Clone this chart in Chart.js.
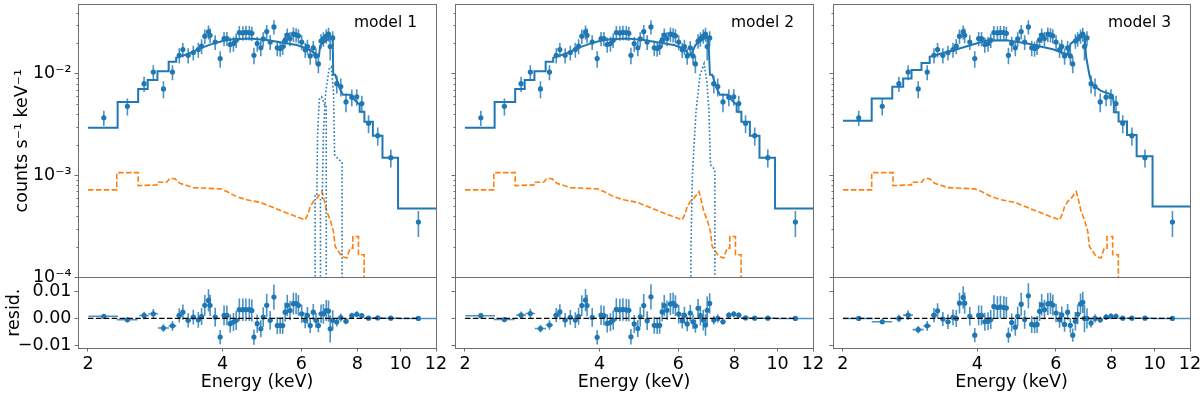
<!DOCTYPE html>
<html>
<head>
<meta charset="utf-8">
<script src="https://cdn.jsdelivr.net/npm/chart.js@4.4.1/dist/chart.umd.min.js"></script>
<style>
  body { margin: 0; background: #fff; }
  #wrap { position: relative; width: 1200px; height: 393px; }
  #wrap canvas { position: absolute; left: 0; top: 0; }
</style>
</head>
<body>
<div id="wrap">
  <canvas id="c1" width="1200" height="393"></canvas>
  <canvas id="c2" width="1200" height="393"></canvas>
  <canvas id="c3" width="1200" height="393"></canvas>
</div>
<script>
// ── axes ──────────────────────────────────────────────────────────────────
const xTicks = [2, 4, 6, 8, 10, 12];
const yTicks = [1e-4, 1e-3, 1e-2];
const yTickLabels = ["10⁻⁴", "10⁻³", "10⁻²"];
const residTicks = [-0.01, 0, 0.01];
const residTickLabels = ["−0.01", "0.00", "0.01"];
const panelLabels = ["model 1", "model 2", "model 3"];

// ── observed spectrum (keV, counts s-1 keV-1) ─────────────────────────────
const energy = [
  2.17, 2.45, 2.67, 2.80, 2.95, 3.09, 3.20, 3.26, 3.35, 3.44,
  3.53, 3.59, 3.65, 3.72, 3.75, 3.85, 3.95, 4.03, 4.09, 4.16,
  4.23, 4.29, 4.36, 4.44, 4.51, 4.59, 4.65, 4.70, 4.78, 4.87,
  4.93, 5.02, 5.11, 5.21, 5.30, 5.38, 5.45, 5.52, 5.58, 5.66,
  5.76, 5.84, 5.91, 6.01, 6.12, 6.19, 6.28, 6.38, 6.47, 6.55,
  6.64, 6.72, 6.82, 6.90, 6.96, 7.05, 7.20, 7.35, 7.55, 7.78,
  7.98, 8.19, 8.48, 8.89, 9.51, 10.96,
];
const energyHalfWidth = [
  0.165, 0.13, 0.065, 0.07, 0.085, 0.06, 0.05, 0.03, 0.045, 0.045,
  0.04, 0.03, 0.03, 0.03, 0.03, 0.04, 0.04, 0.035, 0.03, 0.035,
  0.035, 0.03, 0.035, 0.035, 0.035, 0.035, 0.03, 0.03, 0.04, 0.04,
  0.03, 0.045, 0.045, 0.05, 0.045, 0.04, 0.035, 0.035, 0.03, 0.04,
  0.05, 0.04, 0.035, 0.05, 0.055, 0.035, 0.045, 0.05, 0.045, 0.04,
  0.045, 0.04, 0.05, 0.04, 0.03, 0.04, 0.07, 0.08, 0.1, 0.1,
  0.1, 0.1, 0.18, 0.22, 0.37, 1.06,
];
const counts = [
  3.7e-3, 4.8e-3, 8.0e-3, 1.04e-2, 7.1e-3, 1.04e-2, 1.52e-2, 1.73e-2, 1.52e-2, 1.62e-2,
  1.73e-2, 1.87e-2, 2.34e-2, 2.58e-2, 2.39e-2, 2.05e-2, 1.41e-2, 2.22e-2, 2.22e-2, 1.94e-2,
  1.98e-2, 2.14e-2, 2.54e-2, 2.52e-2, 2.55e-2, 2.54e-2, 2.50e-2, 1.52e-2, 1.98e-2, 1.80e-2,
  2.20e-2, 2.60e-2, 2.05e-2, 2.89e-2, 1.80e-2, 1.77e-2, 1.84e-2, 2.15e-2, 2.40e-2, 2.22e-2,
  2.45e-2, 2.42e-2, 2.36e-2, 2.05e-2, 1.72e-2, 1.85e-2, 1.50e-2, 1.80e-2, 1.50e-2, 1.25e-2,
  2.10e-2, 2.20e-2, 2.35e-2, 2.45e-2, 1.85e-2, 2.25e-2, 8.0e-3, 7.5e-3, 5.3e-3, 5.9e-3,
  5.95e-3, 5.1e-3, 3.26e-3, 2.47e-3, 1.50e-3, 3.5e-4,
];
const countsErr = [
  6.3e-4, 9.1e-4, 1.36e-3, 1.77e-3, 1.35e-3, 1.77e-3, 2.6e-3, 2.8e-3, 2.6e-3, 2.7e-3,
  2.9e-3, 3.1e-3, 3.8e-3, 4.1e-3, 3.9e-3, 3.4e-3, 2.6e-3, 3.6e-3, 3.6e-3, 3.3e-3,
  3.3e-3, 3.5e-3, 4.1e-3, 4.1e-3, 4.1e-3, 4.1e-3, 4.0e-3, 2.8e-3, 3.3e-3, 3.1e-3,
  3.6e-3, 4.2e-3, 3.4e-3, 4.6e-3, 3.1e-3, 3.0e-3, 3.1e-3, 3.5e-3, 3.9e-3, 3.6e-3,
  4.0e-3, 3.9e-3, 3.8e-3, 3.4e-3, 2.9e-3, 3.1e-3, 2.7e-3, 3.0e-3, 2.7e-3, 2.4e-3,
  3.4e-3, 3.6e-3, 3.8e-3, 3.9e-3, 5.0e-3, 3.7e-3, 1.6e-3, 1.5e-3, 1.1e-3, 1.1e-3,
  1.1e-3, 1.0e-3, 6.5e-4, 5.0e-4, 3.0e-4, 1.0e-4,
];

// ── residuals per model ───────────────────────────────────────────────────
const resid1 = [
  0.0008, -0.0005, 0.0011, 0.0017, -0.0035, -0.0027, 0.0011, 0.0023, -0.0007, 0.0005,
  -0.0005, 0.0007, 0.0048, 0.0066, 0.0048, 0.0005, -0.0068, 0.0011, 0.0011, -0.0019,
  -0.0013, -0.0007, 0.0032, 0.0032, 0.0032, 0.0032, 0.0029, -0.0068, -0.0019, -0.0038,
  0.0005, 0.0048, -0.0007, 0.0078, -0.0026, -0.0026, -0.0026, 0.0023, 0.0048, 0.0029,
  0.0054, 0.0054, 0.0048, 0.0017, -0.0007, 0.0011, -0.0026, 0.0023, -0.0007, -0.0026,
  0.0017, 0.0017, 0.0029, 0.0027, -0.0038, -0.0007, -0.0013, 0.0003, -0.0010, 0.0010,
  0.0015, 0.0010, 0.0001, 0.0002, 0.0001, 0.0,
];
const resid2 = [
  0.0010, -0.0004, 0.0012, 0.0018, -0.0037, -0.0024, 0.0012, 0.0024, -0.0006, 0.0004,
  -0.0006, 0.0008, 0.0047, 0.0067, 0.0047, 0.0004, -0.0069, 0.0012, 0.0010, -0.0018,
  -0.0014, -0.0006, 0.0033, 0.0031, 0.0033, 0.0031, 0.0030, -0.0067, -0.0020, -0.0037,
  0.0006, 0.0047, -0.0008, 0.0079, -0.0025, -0.0027, -0.0025, 0.0024, 0.0047, 0.0030,
  0.0053, 0.0055, 0.0047, 0.0016, -0.0008, 0.0012, -0.0020, 0.0020, -0.0012, -0.0028,
  0.0037, 0.0010, -0.0006, -0.0024, 0.0030, 0.0055, -0.0006, 0.0000, -0.0012, 0.0012,
  0.0016, 0.0012, 0.0002, 0.0001, 0.0001, 0.0,
];
const resid3 = [
  0.0000, -0.0012, 0.0000, 0.0012, -0.0041, -0.0027, 0.0012, 0.0028, -0.0002, -0.0012,
  0.0004, 0.0000, 0.0056, 0.0077, 0.0056, 0.0008, -0.0061, 0.0011, 0.0011, -0.0012,
  -0.0010, -0.0004, 0.0044, 0.0040, 0.0042, 0.0040, 0.0038, -0.0061, -0.0015, -0.0032,
  0.0008, 0.0052, -0.0004, 0.0083, -0.0022, -0.0024, -0.0022, 0.0026, 0.0050, 0.0032,
  0.0053, 0.0055, 0.0049, 0.0020, -0.0005, 0.0013, -0.0022, 0.0023, -0.0025, -0.0061,
  -0.0010, 0.0015, 0.0053, 0.0059, 0.0000, 0.0000, -0.0017, 0.0000, -0.0005, 0.0005,
  0.0008, 0.0008, 0.0001, 0.0001, 0.0001, 0.0,
];
const zeroLineE = [2.0, 10.96];

// ── folded models (solid) ─────────────────────────────────────────────────
const model1E = [
  2.00, 2.33, 2.33, 2.59, 2.59, 2.72, 2.72, 2.86, 2.86, 3.03,
  3.03, 3.15, 3.15, 3.36, 3.56, 3.81, 4.00, 4.23, 4.60, 5.02,
  5.46, 5.86, 6.18, 6.43, 6.57, 6.61, 6.75, 6.90, 7.05, 7.07,
  7.14, 7.32, 7.43, 7.72, 7.85, 8.05, 8.10, 8.10, 8.30, 8.30,
  8.67, 8.67, 9.11, 9.11, 9.87, 9.87, 12.0,
];
const model1Y = [
  2.96e-3, 2.96e-3, 5.3e-3, 5.3e-3, 7.08e-3, 7.08e-3, 8.67e-3, 8.67e-3, 1.06e-2, 1.06e-2,
  1.31e-2, 1.31e-2, 1.44e-2, 1.58e-2, 1.78e-2, 1.98e-2, 2.1e-2, 2.18e-2, 2.22e-2, 2.15e-2,
  2.02e-2, 1.92e-2, 1.77e-2, 1.6e-2, 1.5e-2, 1.9e-2, 2.05e-2, 2.2e-2, 2.3e-2, 9.8e-3,
  9.8e-3, 7.13e-3, 6.23e-3, 6.23e-3, 5.69e-3, 5.08e-3, 5.08e-3, 4.24e-3, 4.24e-3, 3.38e-3,
  3.38e-3, 2.47e-3, 2.47e-3, 1.5e-3, 1.5e-3, 4.76e-4, 4.76e-4,
];
const model2E = [
  2.00, 2.33, 2.33, 2.59, 2.59, 2.72, 2.72, 2.86, 2.86, 3.03,
  3.03, 3.15, 3.15, 3.36, 3.56, 3.81, 4.00, 4.23, 4.60, 5.02,
  5.46, 5.86, 6.18, 6.35, 6.44, 6.55, 6.67, 6.85, 7.00, 7.06,
  7.14, 7.32, 7.43, 7.72, 7.85, 8.05, 8.10, 8.10, 8.30, 8.30,
  8.67, 8.67, 9.11, 9.11, 9.87, 9.87, 12.0,
];
const model2Y = [
  2.96e-3, 2.96e-3, 5.3e-3, 5.3e-3, 7.08e-3, 7.08e-3, 8.67e-3, 8.67e-3, 1.06e-2, 1.06e-2,
  1.31e-2, 1.31e-2, 1.44e-2, 1.58e-2, 1.78e-2, 1.98e-2, 2.1e-2, 2.18e-2, 2.22e-2, 2.15e-2,
  2.02e-2, 1.92e-2, 1.77e-2, 1.52e-2, 1.62e-2, 1.91e-2, 2.06e-2, 2.22e-2, 2.3e-2, 9.8e-3,
  9.8e-3, 7.13e-3, 6.23e-3, 6.23e-3, 5.69e-3, 5.08e-3, 5.08e-3, 4.24e-3, 4.24e-3, 3.38e-3,
  3.38e-3, 2.47e-3, 2.47e-3, 1.5e-3, 1.5e-3, 4.76e-4, 4.76e-4,
];
const model3E = [
  2.00, 2.32, 2.32, 2.58, 2.58, 2.73, 2.73, 2.85, 2.85, 3.00,
  3.00, 3.13, 3.13, 3.65, 4.19, 4.65, 5.15, 5.91, 6.28, 6.40,
  6.48, 6.78, 6.96, 7.02, 7.14, 7.25, 7.58, 8.05, 8.10, 8.10,
  8.30, 8.30, 8.67, 8.67, 9.11, 9.11, 9.89, 9.89, 12.0,
];
const model3Y = [
  3.46e-3, 3.46e-3, 5.73e-3, 5.73e-3, 7.46e-3, 7.46e-3, 8.99e-3, 8.99e-3, 1.09e-2, 1.09e-2,
  1.28e-2, 1.28e-2, 1.47e-2, 1.77e-2, 2.12e-2, 2.14e-2, 2.0e-2, 1.74e-2, 1.58e-2, 1.56e-2,
  1.98e-2, 2.28e-2, 2.38e-2, 1.47e-2, 9.7e-3, 7.8e-3, 6.8e-3, 6.2e-3, 5.0e-3, 4.2e-3,
  4.2e-3, 3.4e-3, 3.4e-3, 2.5e-3, 2.5e-3, 1.55e-3, 1.55e-3, 4.97e-4, 4.97e-4,
];

// ── background (orange dashed), same in the three fits ────────────────────
const bkgE = [
  2.00, 2.32, 2.32, 2.59, 2.59, 2.85, 2.85, 3.00, 3.05, 3.13,
  3.21, 3.33, 3.44, 3.95, 4.09, 4.30, 4.53, 4.85, 5.19, 5.76,
  6.12, 6.22, 6.28, 6.38, 6.50, 6.67, 6.72, 6.84, 6.96, 7.08,
  7.14, 7.39, 7.58, 7.71, 7.82, 7.82, 8.05, 8.05, 8.29, 8.29,
];
const bkgY = [
  7.24e-4, 7.24e-4, 1.07e-3, 1.07e-3, 7.98e-4, 8.1e-4, 8.6e-4, 8.6e-4, 9.4e-4, 9.3e-4,
  8.4e-4, 7.98e-4, 7.62e-4, 7.41e-4, 6.97e-4, 6.22e-4, 5.78e-4, 5.47e-4, 4.85e-4, 4.05e-4,
  3.68e-4, 4.27e-4, 4.97e-4, 5.56e-4, 5.98e-4, 6.97e-4, 6.22e-4, 4.44e-4, 3.68e-4, 2.82e-4,
  2.01e-4, 1.61e-4, 1.55e-4, 1.94e-4, 1.94e-4, 2.52e-4, 2.52e-4, 1.67e-4, 1.67e-4, 1e-5,
];

// ── Fe line components (dotted) ───────────────────────────────────────────
const line1aE = [6.44, 6.44, 6.50, 6.52, 6.58, 6.66, 6.76, 6.82, 6.82];
const line1aY = [1e-5, 6.5e-4, 6.5e-4, 2.4e-3, 5.6e-3, 5.95e-3, 5.0e-3, 5.0e-3, 1e-5];
const line1bE = [6.62, 6.62, 6.68, 6.72, 6.80, 6.92, 7.00, 7.08, 7.12, 7.27, 7.40, 7.40];
const line1bY = [1e-5, 6e-4, 6e-4, 2.6e-3, 6.5e-3, 1.12e-2, 1.17e-2, 6.6e-3, 1.6e-3, 1.44e-3, 1.35e-3, 1e-5];
const line2E = [6.40, 6.40, 6.45, 6.57, 6.71, 6.85, 6.95, 7.02, 7.08, 7.24, 7.24];
const line2Y = [1e-5, 1.8e-4, 1.02e-3, 4.24e-3, 9.8e-3, 1.26e-2, 8.3e-3, 4.5e-3, 1.28e-3, 1.14e-3, 1e-5];

// ── style ─────────────────────────────────────────────────────────────────
const BLUE = "#1f77b4";
const ORANGE = "#ff7f0e";
const SPINE = "#6f6f6f";
const FONT = 17.5;

Chart.defaults.font.family = "'DejaVu Sans', sans-serif";
Chart.defaults.color = "#000";

const series = (xs, ys) => xs.map((x, i) => ({ x, y: ys[i] }));

// clip each dataset to its own sub-panel, error bars, frames, labels
const panelDeco = {
  id: "panelDeco",
  beforeDatasetDraw(chart, args) {
    const ds = chart.data.datasets[args.index];
    const ys = chart.scales[ds.yAxisID];
    const xs = chart.scales.x;
    const { ctx, chartArea } = chart;
    ctx.save();
    ctx.beginPath();
    ctx.rect(chartArea.left, ys.top, chartArea.right - chartArea.left, ys.bottom - ys.top);
    ctx.clip();
    if (!ds.errY) return;
    ctx.strokeStyle = "rgba(31,119,180,0.8)";
    ctx.lineWidth = 1.6;
    ctx.beginPath();
    ds.data.forEach((p, i) => {
      const px = xs.getPixelForValue(p.x);
      const py = ys.getPixelForValue(p.y);
      const lo = p.y - ds.errY[i];
      const yLo = (ys.type !== "logarithmic" || lo > 0) ? ys.getPixelForValue(lo) : ys.bottom + 5;
      ctx.moveTo(px, yLo);
      ctx.lineTo(px, ys.getPixelForValue(p.y + ds.errY[i]));
      if (ds.errX) {
        ctx.moveTo(xs.getPixelForValue(p.x - ds.errX[i]), py);
        ctx.lineTo(xs.getPixelForValue(p.x + ds.errX[i]), py);
      }
    });
    ctx.stroke();
  },
  afterDatasetDraw(chart) {
    chart.ctx.restore();
  },
  afterDatasetsDraw(chart, args, opts) {
    const { ctx, chartArea } = chart;
    const l = Math.round(chartArea.left) + 0.5;
    const w = Math.round(chartArea.right) - Math.round(chartArea.left);
    ctx.save();
    ctx.strokeStyle = SPINE;
    ctx.lineWidth = 1;
    ["y", "yres"].forEach((id) => {
      const s = chart.scales[id];
      ctx.strokeRect(l, Math.round(s.top) + 0.5, w, Math.round(s.bottom) - Math.round(s.top));
    });
    // minor ticks on the log axis
    const ly = chart.scales.y;
    ctx.beginPath();
    for (let e = -4; e <= -2; e++) {
      for (let k = 2; k <= 9; k++) {
        const v = k * Math.pow(10, e);
        if (v > ly.max) continue;
        const py = Math.round(ly.getPixelForValue(v)) + 0.5;
        ctx.moveTo(l - 2, py);
        ctx.lineTo(l, py);
      }
    }
    ctx.stroke();
    ctx.fillStyle = "#000";
    ctx.font = "15.5px 'DejaVu Sans', sans-serif";
    ctx.textAlign = "right";
    ctx.textBaseline = "middle";
    ctx.fillText(opts.label, chartArea.right - 19, chartArea.top + 19);
    ctx.restore();
  },
};

function makeScales(p) {
  const tickGrid = { drawOnChartArea: false, tickLength: 3.5, tickColor: SPINE, tickWidth: 1 };
  return {
    x: {
      type: "logarithmic",
      position: "bottom",
      bounds: "data",
      min: 1.9,
      max: 12,
      afterBuildTicks: (s) => { s.ticks = xTicks.map((v) => ({ value: v })); },
      afterFit: (s) => { s.height = 45; s.paddingLeft = 0; s.paddingRight = 0; },
      ticks: { autoSkip: false, maxRotation: 0, padding: 2, font: { size: FONT },
               callback: (v, i) => String(xTicks[i]) },
      grid: tickGrid,
      border: { display: false },
      title: { display: true, text: "Energy (keV)", font: { size: FONT }, padding: 0 },
    },
    y: {
      type: "logarithmic",
      axis: "y",
      position: "left",
      stack: "panel",
      stackWeight: 275,
      weight: 2,
      bounds: "data",
      min: 1e-4,
      max: 0.0485,
      afterBuildTicks: (s) => { s.ticks = yTicks.map((v) => ({ value: v })); },
      afterFit: (s) => { s.width = p.yWidth; s.paddingTop = 0; s.paddingBottom = 0; },
      ticks: { autoSkip: false, padding: 3, font: { size: FONT },
               callback: (v, i) => (p.showY ? yTickLabels[i] : "") },
      grid: tickGrid,
      border: { display: false },
      title: { display: p.showY, text: "counts s⁻¹ keV⁻¹", font: { size: FONT }, padding: { top: 12, bottom: 0 } },
    },
    yres: {
      type: "linear",
      axis: "y",
      position: "left",
      stack: "panel",
      stackWeight: 71,
      weight: 1,
      bounds: "data",
      min: -0.0108,
      max: 0.0150,
      afterBuildTicks: (s) => { s.ticks = residTicks.map((v) => ({ value: v })); },
      afterFit: (s) => { s.width = p.yWidth; s.paddingTop = 0; s.paddingBottom = 0; },
      ticks: { autoSkip: false, padding: 3, font: { size: FONT },
               callback: (v, i) => (p.showY ? residTickLabels[i] : "") },
      grid: tickGrid,
      border: { display: false },
      title: { display: p.showY, text: "resid.", font: { size: FONT }, padding: { top: 4, bottom: 0 } },
    },
  };
}

const panels = [
  { canvas: "c1", label: panelLabels[0], left: 78, right: 436, yWidth: 78, showY: true,
    modelE: model1E, modelY: model1Y, resid: resid1, lines: [[line1aE, line1aY], [line1bE, line1bY]] },
  { canvas: "c2", label: panelLabels[1], left: 455, right: 813, yWidth: 10, showY: false,
    modelE: model2E, modelY: model2Y, resid: resid2, lines: [[line2E, line2Y]] },
  { canvas: "c3", label: panelLabels[2], left: 833, right: 1190, yWidth: 10, showY: false,
    modelE: model3E, modelY: model3Y, resid: resid3, lines: [] },
];

panels.forEach((p) => {
  const lineSets = p.lines.map(([e, v]) => ({
    type: "line", yAxisID: "y", data: series(e, v), showLine: true, pointRadius: 0,
    borderColor: BLUE, borderWidth: 1.6, borderDash: [1.6, 2.2], fill: false, order: 4,
  }));

  new Chart(document.getElementById(p.canvas), {
    type: "scatter",
    data: {
      datasets: [
        { // zero line of residuals
          type: "line", yAxisID: "yres", data: zeroLineE.map((x) => ({ x, y: 0 })),
          showLine: true, pointRadius: 0, borderColor: "#000", borderWidth: 1.3,
          borderDash: [5.5, 2.4], order: 0,
        },
        { // residuals
          yAxisID: "yres", data: series(energy, p.resid), errY: countsErr, errX: energyHalfWidth,
          pointRadius: 2.6, pointBorderWidth: 0, backgroundColor: BLUE, order: 1,
        },
        { // spectrum
          yAxisID: "y", data: series(energy, counts), errY: countsErr,
          pointRadius: 2.6, pointBorderWidth: 0, backgroundColor: BLUE, order: 2,
        },
        { // total model
          type: "line", yAxisID: "y", data: series(p.modelE, p.modelY), showLine: true,
          pointRadius: 0, borderColor: BLUE, borderWidth: 2, fill: false, order: 3,
        },
        ...lineSets,
        { // background
          type: "line", yAxisID: "y", data: series(bkgE, bkgY), showLine: true, pointRadius: 0,
          borderColor: ORANGE, borderWidth: 1.6, borderDash: [5.5, 2.4], fill: false, order: 5,
        },
      ],
    },
    options: {
      responsive: false,
      animation: false,
      devicePixelRatio: 1,
      events: [],
      layout: { padding: { left: p.left - p.yWidth, right: 1200 - p.right, top: 2, bottom: 0 } },
      scales: makeScales(p),
      plugins: {
        legend: { display: false },
        tooltip: { enabled: false },
        panelDeco: { label: p.label },
      },
    },
    plugins: [panelDeco],
  });
});
</script>
</body>
</html>
